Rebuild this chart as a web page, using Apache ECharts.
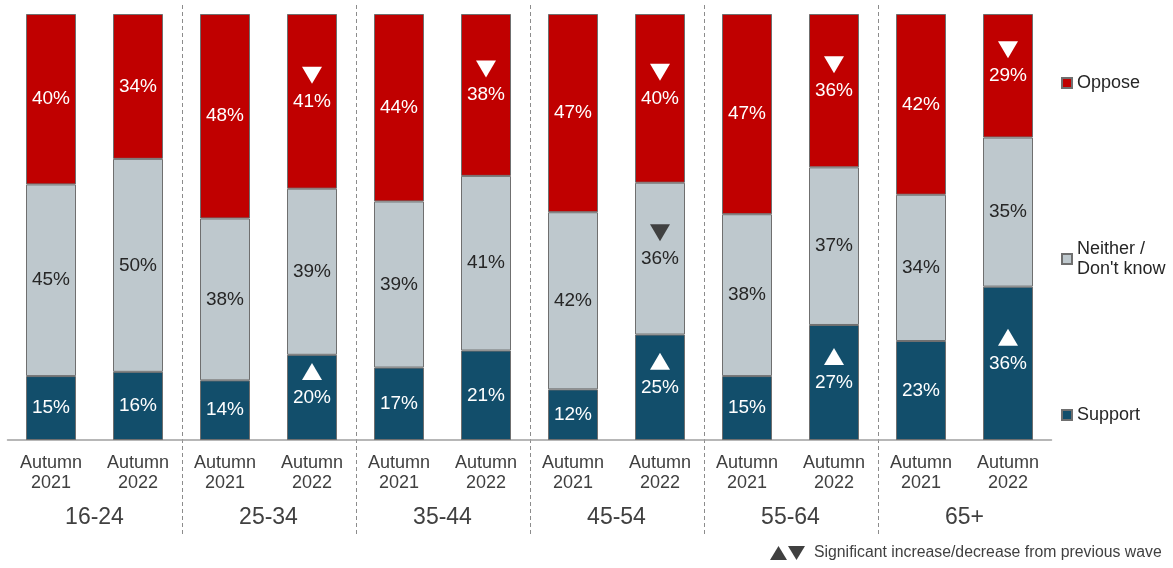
<!DOCTYPE html>
<html>
<head>
<meta charset="utf-8">
<script src="https://cdn.jsdelivr.net/npm/echarts@6/dist/echarts.min.js"></script>
<style>
html,body{margin:0;padding:0;background:#fff;}
#chart{width:1173px;height:568px;}
</style>
</head>
<body>
<div id="chart"></div>
<script>
const categories = ['Autumn\n2021','Autumn\n2022','Autumn\n2021','Autumn\n2022','Autumn\n2021','Autumn\n2022','Autumn\n2021','Autumn\n2022','Autumn\n2021','Autumn\n2022','Autumn\n2021','Autumn\n2022'];
const groups = ['16-24','25-34','35-44','45-54','55-64','65+'];
const support = [15,16,14,20,17,21,12,25,15,27,23,36];
const neither = [45,50,38,39,39,41,42,36,38,37,34,35];
const oppose  = [40,34,48,41,44,38,47,40,47,36,42,29];
// significance: 1 = increase, -1 = decrease, 0 = none
const supportSig = [0,0,0,1,0,0,0,1,0,1,0,1];
const neitherSig = [0,0,0,0,0,0,0,-1,0,0,0,0];
const opposeSig  = [0,0,0,-1,0,-1,0,-1,0,-1,0,-1];
const seriesNames = ['Support','Neither / Don\'t know','Oppose'];

const FONT = 'Liberation Sans, Arial, sans-serif';
const colors = {support:'#124E6B', neither:'#BEC8CD', oppose:'#C00000'};

const totals = support.map((s,i)=>s+neither[i]+oppose[i]);
function norm(arr){ return arr.map((v,i)=>({value: v/totals[i]*100, raw: v})); }
const sN = norm(support), nN = norm(neither), oN = norm(oppose);

function markers(sig, base, seg){
  const pts = [];
  sig.forEach((s,i)=>{
    if(s===0) return;
    const bottom = base ? base[i].value : 0;
    pts.push({value:[i, bottom + seg[i].value/2], symbolRotate: s>0 ? 0 : 180});
  });
  return pts;
}
const nBase = sN;
const oBase = sN.map((d,i)=>({value: d.value + nN[i].value}));

function barSeries(name, data, color, labelColor){
  return {
    name, type:'bar', stack:'total', barWidth:50, data,
    itemStyle:{color, borderColor:'#6f6f6f', borderWidth:1},
    label:{show:true, position:'inside', formatter:p=>p.data.raw+'%', color:labelColor, fontSize:19, fontFamily:FONT},
    emphasis:{disabled:true}
  };
}
function markerSeries(data, color){
  return {type:'scatter', data, symbol:'triangle', symbolSize:[20,17], symbolOffset:[0,-26],
    itemStyle:{color, opacity:1}, z:5, silent:true};
}

const legendText = {fontSize:18, lineHeight:20, color:'#262626', fontFamily:FONT};
const chart = echarts.init(document.getElementById('chart'), null, {renderer:'canvas'});
const option = {
  animation:false,
  textStyle:{fontFamily:FONT},
  grid:{left:7.5, right:121.5, top:14, bottom:128},
  xAxis:[{
    type:'category', data:categories,
    axisLine:{lineStyle:{color:'#a0a0a0', width:1.5}},
    axisTick:{show:false},
    axisLabel:{color:'#404040', fontSize:18, lineHeight:20, margin:13, fontFamily:FONT, interval:0}
  },{
    type:'category', data:groups, position:'bottom',
    axisLine:{show:false}, axisTick:{show:false},
    axisLabel:{color:'#404040', fontSize:23, margin:66, fontFamily:FONT, interval:0}
  }],
  yAxis:{type:'value', min:0, max:100, show:false},
  legend:[
    {data:['Oppose'], left:1056, top:68, icon:'rect', itemWidth:10, itemHeight:10,
     textStyle:legendText, selectedMode:false},
    {data:['Neither / Don\'t know'], left:1056, top:234, icon:'rect', itemWidth:10, itemHeight:10,
     formatter:()=>'Neither /\nDon\'t know', textStyle:legendText, selectedMode:false},
    {data:['Support'], left:1056, top:400, icon:'rect', itemWidth:10, itemHeight:10,
     textStyle:legendText, selectedMode:false}
  ],
  series:[
    barSeries(seriesNames[0], sN, colors.support, '#ffffff'),
    barSeries(seriesNames[1], nN, colors.neither, '#262626'),
    barSeries(seriesNames[2], oN, colors.oppose, '#ffffff'),
    markerSeries(markers(supportSig, null, sN), '#ffffff'),
    markerSeries(markers(neitherSig, nBase, nN), '#404040'),
    markerSeries(markers(opposeSig, oBase, oN), '#ffffff')
  ]
};
chart.setOption(option);

// group separators between pairs of bars
const graphics = [];
for(let i=1;i<categories.length-1;i+=2){
  const x1 = chart.convertToPixel({xAxisIndex:0}, i);
  const x2 = chart.convertToPixel({xAxisIndex:0}, i+1);
  const x = Math.round((x1+x2)/2)+0.5;
  graphics.push({type:'line', shape:{x1:x,y1:5,x2:x,y2:535}, style:{stroke:'#8c8c8c', lineWidth:1, lineDash:[4,3]}, silent:true});
}
// footnote key
graphics.push({type:'polygon', shape:{points:[[770,560],[787,560],[778.5,546]]}, style:{fill:'#404040'}, silent:true});
graphics.push({type:'polygon', shape:{points:[[788,546],[805,546],[796.5,560]]}, style:{fill:'#404040'}, silent:true});
graphics.push({type:'text', left:814, top:545, style:{text:'Significant increase/decrease from previous wave', fontSize:15.8, fill:'#404040', fontFamily:FONT}});
chart.setOption({graphic:graphics});
</script>
</body>
</html>
